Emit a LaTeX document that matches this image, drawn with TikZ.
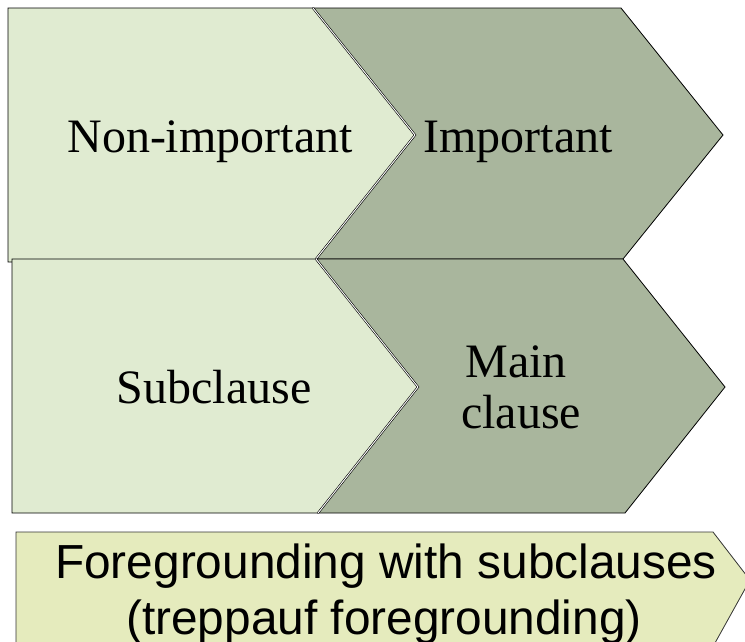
\documentclass[tikz,border=0pt]{standalone}
\usepackage{fontspec}
\setmainfont{Liberation Serif}
\newfontfamily\boxsans{Liberation Sans}
\definecolor{lightgreen}{HTML}{E0EBD1}
\definecolor{darkgreen}{HTML}{A9B69D}
\definecolor{paleyellow}{HTML}{E5EBBD}
\begin{document}
\begin{tikzpicture}[x=1pt,y=-1pt,
  lightshape/.style={fill=lightgreen,draw=black,line width=0.8pt,line join=miter},
  darkshape/.style={fill=darkgreen,draw=black,line width=0.8pt,line join=miter},
  yellowshape/.style={fill=paleyellow,draw=black!80,line width=0.8pt},
  seam/.style={draw=black,line width=0.6pt,double=white,double distance=0.9pt},
  serifbig/.style={font=\fontsize{48}{56}\selectfont,inner sep=0pt,anchor=base},
  sansbig/.style={font=\boxsans\fontsize{47.8}{56}\selectfont,inner sep=0pt,anchor=base}]
\useasboundingbox (0,0) rectangle (745,641);
\clip (0,0) rectangle (745,641);
\fill[white] (0,0) rectangle (745,641);
% row 1
\draw[lightshape] (8,8) -- (313,8) -- (415,135) -- (316,262) -- (8,262) -- cycle;
\draw[darkshape] (313,8) -- (621,8) -- (723,135) -- (623,259) -- (316,259) -- (415,135) -- cycle;
% row 2
\draw[lightshape] (12,259) -- (316,259) -- (418,387) -- (318,513) -- (12,513) -- cycle;
\draw[darkshape] (316,259) -- (623,259) -- (725,387) -- (625,513) -- (318,513) -- (418,387) -- cycle;
% seams
\coordinate (s1a) at (313,8);
\coordinate (s1b) at (415,135);
\coordinate (s1c) at (316,259);
\coordinate (s2b) at (418,387);
\coordinate (s2c) at (318,513);
\draw[seam] (s1a) -- (s1b) -- (s1c);
\draw[seam] (s1c) -- (s2b) -- (s2c);
% bottom box
\draw[yellowshape] (16,532) -- (713,532) -- (750,580) -- (700,670) -- (16,670) -- cycle;
% labels
\node[serifbig] (nonimp) at (210,152) {Non-important};
\node[serifbig] (imp) at (518,152) {Important};
\node[serifbig] (sub) at (214,403) {Subclause};
\node[serifbig] (main1) at (516,377) {Main};
\node[serifbig] (main2) at (521,428) {clause};
\node[sansbig] (fg1) at (386,578) {Foregrounding with subclauses};
\node[sansbig] (fg2) at (384,634) {(treppauf foregrounding)};
\end{tikzpicture}
\end{document}
